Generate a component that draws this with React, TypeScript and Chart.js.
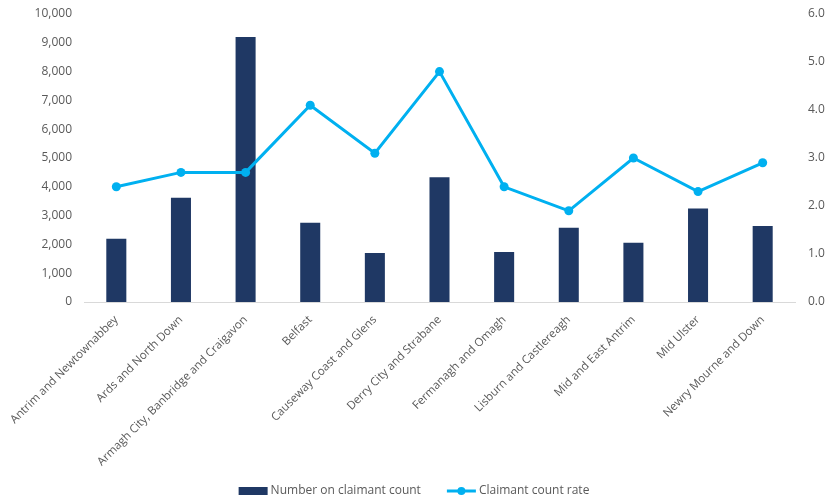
import React, { useEffect, useRef } from "react";
import { Chart, registerables } from "chart.js";

Chart.register(...registerables);

const categories = [
  "Antrim and Newtownabbey",
  "Ards and North Down",
  "Armagh City, Banbridge and Craigavon",
  "Belfast",
  "Causeway Coast and Glens",
  "Derry City and Strabane",
  "Fermanagh and Omagh",
  "Lisburn and Castlereagh",
  "Mid and East Antrim",
  "Mid Ulster",
  "Newry Mourne and Down",
];
const claimantCount = [2200, 3620, 9200, 2750, 1700, 4330, 1740, 2580, 2060, 3250, 2640];
const claimantRate = [2.4, 2.7, 2.7, 4.1, 3.1, 4.8, 2.4, 1.9, 3.0, 2.3, 2.9];
const barLabel = "Number on claimant count";
const lineLabel = "Claimant count rate";

const BAR_COLOR = "#1f3864";
const LINE_COLOR = "#00b0f0";
const TEXT_COLOR = "#595959";
const FONT = "'Open Sans', 'Liberation Sans', sans-serif";

const legendPlugin = {
  id: "customLegend",
  afterDraw(chart: any) {
    const ctx = chart.ctx;
    ctx.save();
    ctx.font = `12px ${FONT}`;
    ctx.textBaseline = "middle";
    ctx.fillStyle = TEXT_COLOR;
    const y = 491;
    const sw = 29;
    const gap = 3;
    const between = 26;
    const w1 = ctx.measureText(barLabel).width;
    const w2 = ctx.measureText(lineLabel).width;
    const total = sw + gap + w1 + between + sw + gap + w2;
    let x = chart.width / 2 - total / 2;
    ctx.fillStyle = BAR_COLOR;
    ctx.fillRect(x, y - 4, sw, 8);
    x += sw + gap;
    ctx.fillStyle = TEXT_COLOR;
    ctx.fillText(barLabel, x, y);
    x += w1 + between;
    ctx.strokeStyle = LINE_COLOR;
    ctx.lineWidth = 3;
    ctx.beginPath();
    ctx.moveTo(x, y);
    ctx.lineTo(x + sw, y);
    ctx.stroke();
    ctx.fillStyle = LINE_COLOR;
    ctx.beginPath();
    ctx.arc(x + sw / 2, y, 4, 0, Math.PI * 2);
    ctx.fill();
    x += sw + gap;
    ctx.fillStyle = TEXT_COLOR;
    ctx.fillText(lineLabel, x, y);
    ctx.restore();
  },
};

export default function App() {
  const ref = useRef<HTMLCanvasElement>(null);
  useEffect(() => {
    document.body.style.margin = "0";
    const chart = new Chart(ref.current!, {
      type: "bar",
      data: {
        labels: categories,
        datasets: [
          {
            type: "line",
            label: lineLabel,
            data: claimantRate,
            yAxisID: "y1",
            borderColor: LINE_COLOR,
            backgroundColor: LINE_COLOR,
            borderWidth: 3,
            pointRadius: 4.5,
            pointBackgroundColor: LINE_COLOR,
            pointBorderWidth: 0,
            tension: 0,
            order: 0,
          } as any,
          {
            type: "bar",
            label: barLabel,
            data: claimantCount,
            yAxisID: "y",
            backgroundColor: BAR_COLOR,
            categoryPercentage: 1,
            barPercentage: 0.31,
            order: 1,
          },
        ],
      },
      options: {
        animation: false,
        responsive: false,
        layout: { padding: { top: 14, bottom: 0, left: 0, right: 0 } },
        plugins: { legend: { display: false }, tooltip: { enabled: false } },
        scales: {
          x: {
            grid: { display: false, drawTicks: false },
            border: { display: true, color: "#d9d9d9", width: 1 },
            ticks: {
              color: TEXT_COLOR,
              font: { family: FONT, size: 11.5 },
              minRotation: 45,
              maxRotation: 45,
              autoSkip: false,
              padding: 11,
            },
            afterFit(scale: any) {
              scale.height = 200;
              scale.paddingLeft = 0;
              scale.paddingRight = 0;
            },
          },
          y: {
            position: "left",
            min: 0,
            max: 10000,
            grid: { display: false, drawTicks: false },
            border: { display: false },
            ticks: {
              stepSize: 1000,
              color: TEXT_COLOR,
              font: { family: FONT, size: 12 },
              padding: 12,
              callback: (v: any) => Number(v).toLocaleString("en-US"),
            },
            afterFit(scale: any) {
              scale.width = 84;
              scale.paddingTop = 0;
              scale.paddingBottom = 0;
            },
          },
          y1: {
            position: "right",
            min: 0,
            max: 6,
            grid: { display: false, drawTicks: false },
            border: { display: false },
            ticks: {
              stepSize: 1,
              color: TEXT_COLOR,
              font: { family: FONT, size: 12 },
              padding: 13,
              callback: (v: any) => Number(v).toFixed(1),
            },
            afterFit(scale: any) {
              scale.width = 33;
              scale.paddingTop = 0;
              scale.paddingBottom = 0;
            },
          },
        },
      },
      plugins: [legendPlugin],
    });
    return () => chart.destroy();
  }, []);
  return <canvas ref={ref} width={828} height={502} style={{ display: "block" }} />;
}
